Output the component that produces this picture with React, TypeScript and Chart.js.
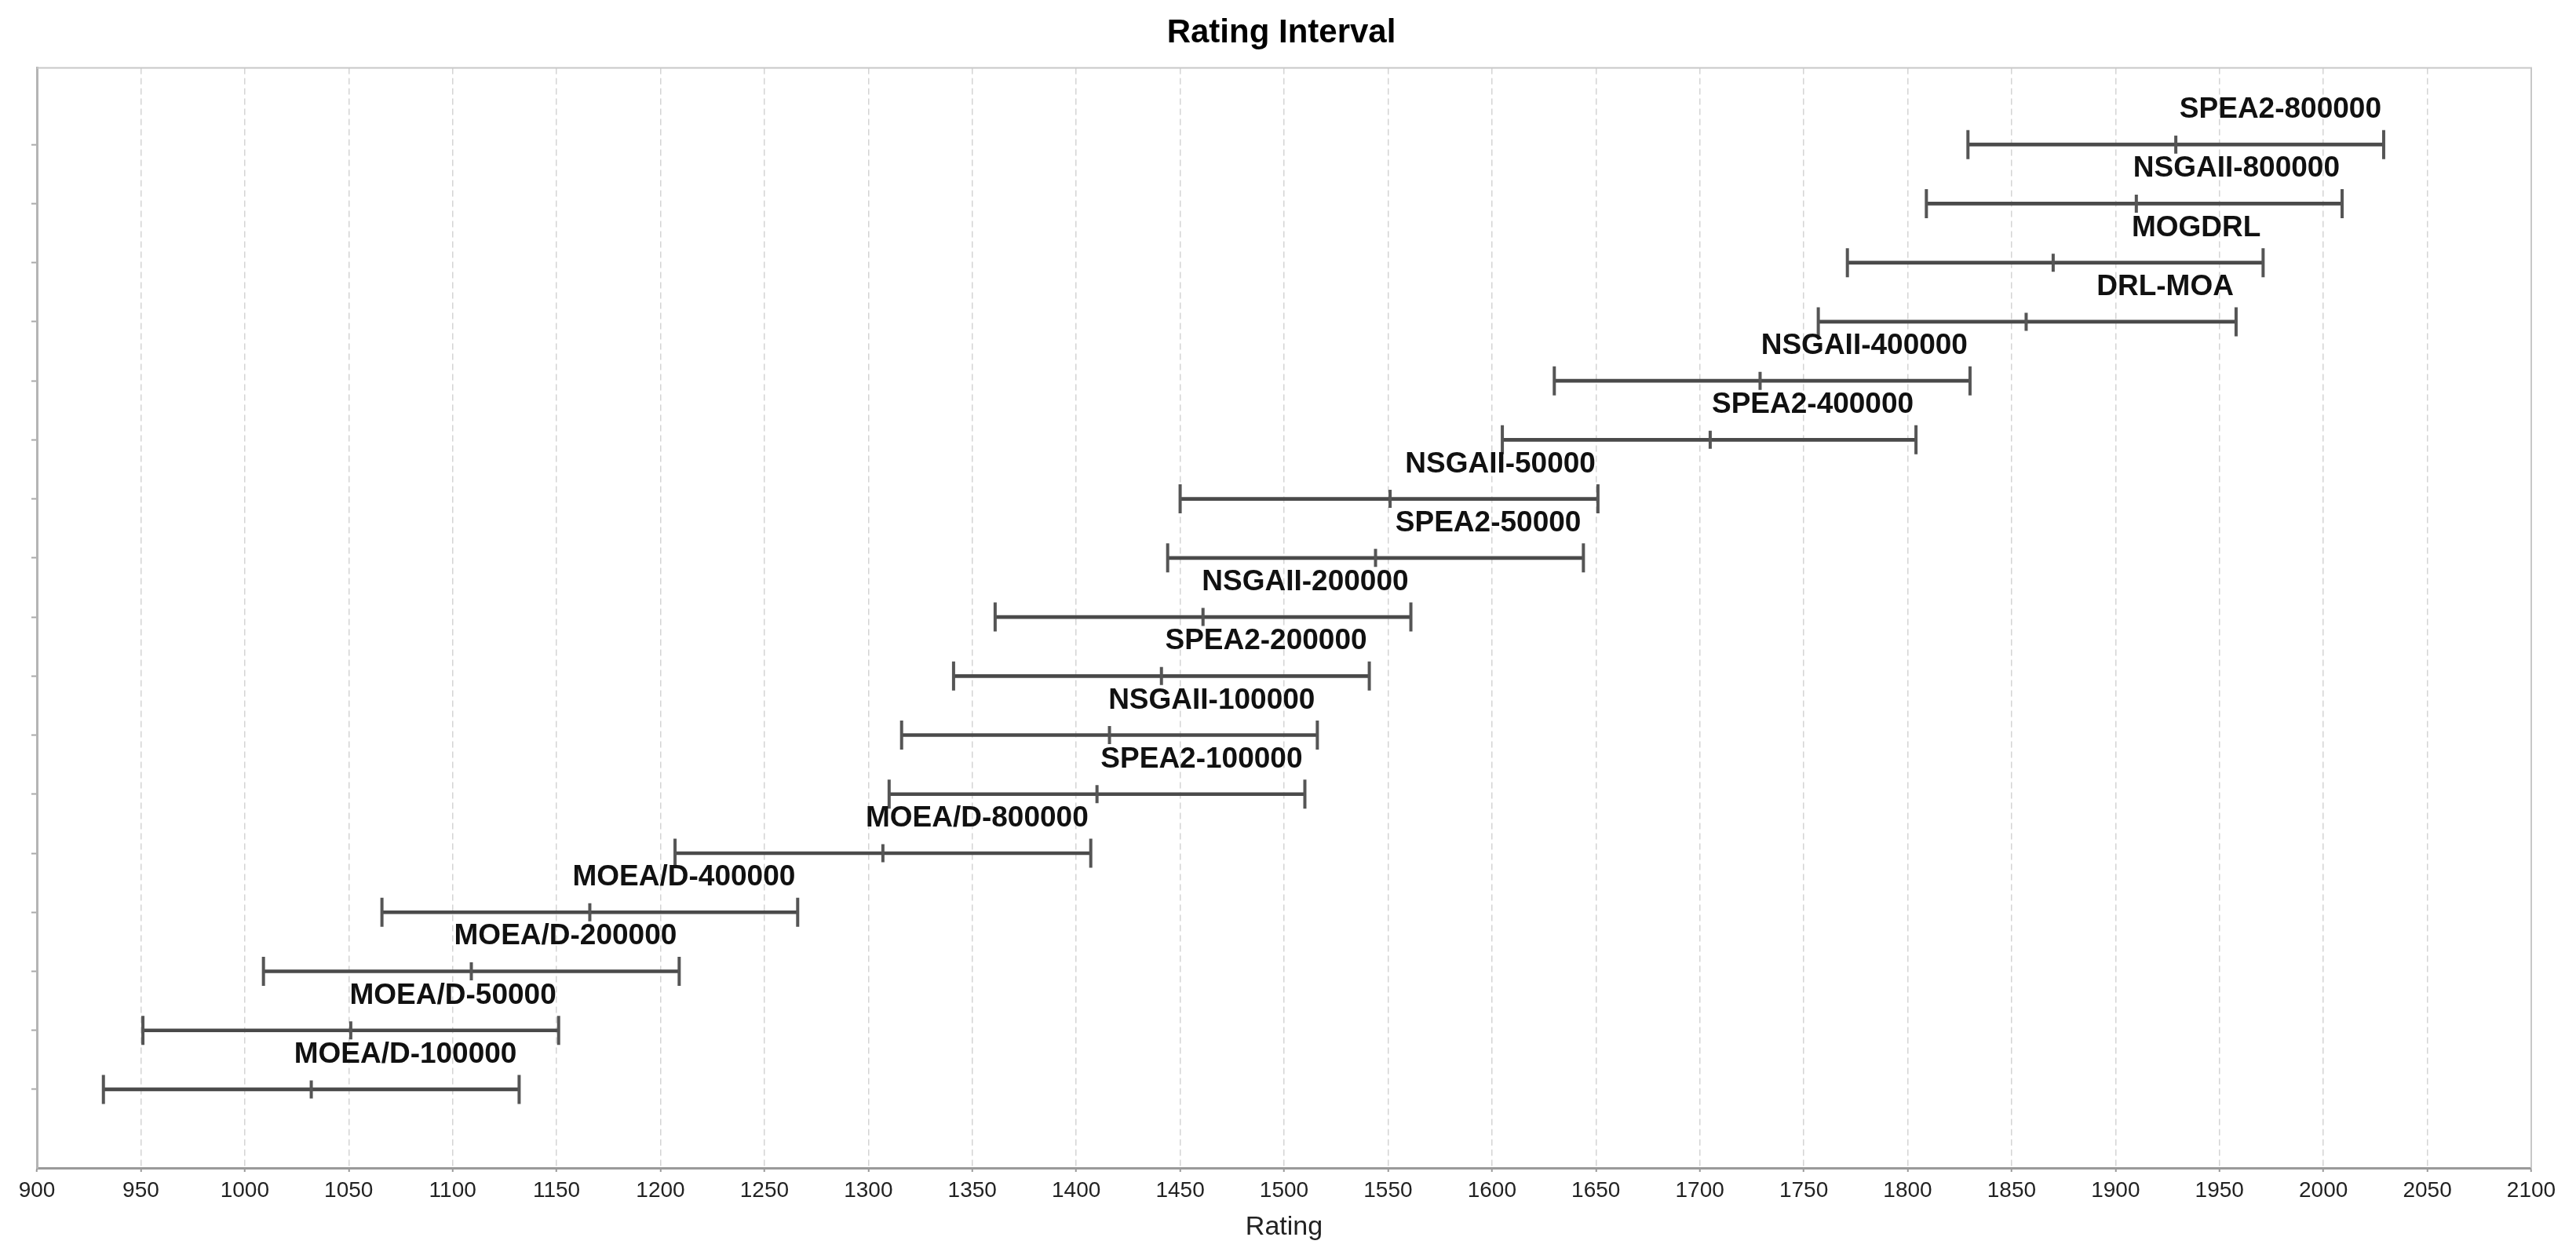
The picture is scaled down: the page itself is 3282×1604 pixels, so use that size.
import React, { useEffect, useRef } from 'react';
import { Chart, registerables } from 'chart.js';

Chart.register(...registerables);

// ---- data (bottom row first) ----
const categories = [
  'MOEA/D-100000',
  'MOEA/D-50000',
  'MOEA/D-200000',
  'MOEA/D-400000',
  'MOEA/D-800000',
  'SPEA2-100000',
  'NSGAII-100000',
  'SPEA2-200000',
  'NSGAII-200000',
  'SPEA2-50000',
  'NSGAII-50000',
  'SPEA2-400000',
  'NSGAII-400000',
  'DRL-MOA',
  'MOGDRL',
  'NSGAII-800000',
  'SPEA2-800000',
];
const lowerBounds = [932, 951, 1009, 1066, 1207, 1310, 1316, 1341, 1361, 1444, 1450, 1605, 1630, 1757, 1771, 1809, 1829];
const meanRatings = [1032, 1051, 1109, 1166, 1307, 1410, 1416, 1441, 1461, 1544, 1551, 1705, 1729, 1857, 1870, 1910, 1929];
const upperBounds = [1132, 1151, 1209, 1266, 1407, 1510, 1516, 1541, 1561, 1644, 1651, 1804, 1830, 1958, 1971, 2009, 2029];
const xTickValues = [
  900, 950, 1000, 1050, 1100, 1150, 1200, 1250, 1300, 1350, 1400, 1450,
  1500, 1550, 1600, 1650, 1700, 1750, 1800, 1850, 1900, 1950, 2000, 2050, 2100,
];

const FONT = '"Liberation Sans", Arial, Helvetica, sans-serif';

const labelPlugin = {
  id: 'intervalLabels',
  afterDatasetsDraw(chart: any) {
    const { ctx, scales } = chart;
    const xs = scales.x;
    const ys = scales.y;
    ctx.save();
    ctx.font = `bold 37px ${FONT}`;
    ctx.fillStyle = '#111111';
    ctx.textAlign = 'right';
    ctx.textBaseline = 'alphabetic';
    categories.forEach((name, i) => {
      ctx.fillText(name, xs.getPixelForValue(upperBounds[i]) - 3, ys.getPixelForValue(i) - 34);
    });
    ctx.restore();
  },
};

const framePlugin = {
  id: 'plotFrame',
  beforeDatasetsDraw(chart: any) {
    const { ctx, chartArea } = chart;
    const { left, right, top, bottom } = chartArea;
    ctx.save();
    ctx.strokeStyle = '#c8c8c8';
    ctx.lineWidth = 2;
    ctx.beginPath();
    ctx.moveTo(left, top);
    ctx.lineTo(right, top);
    ctx.lineTo(right, bottom);
    ctx.stroke();
    ctx.restore();
  },
};

export default function App() {
  const ref = useRef<HTMLCanvasElement>(null);

  useEffect(() => {
    if (!ref.current) return;
    const endPoints = categories.flatMap((_, i) => [
      { x: lowerBounds[i], y: i },
      { x: upperBounds[i], y: i },
    ]);
    const meanPoints = categories.map((_, i) => ({ x: meanRatings[i], y: i }));
    const barData = categories.map((_, i) => ({ x: [lowerBounds[i], upperBounds[i]], y: i }));

    const chart = new Chart(ref.current, {
      type: 'bar',
      data: {
        datasets: [
          {
            type: 'scatter',
            label: 'bounds',
            data: endPoints,
            pointStyle: 'line',
            pointRotation: 90,
            pointRadius: 18.5,
            pointBorderColor: '#555555',
            pointBackgroundColor: '#555555',
            pointBorderWidth: 4,
            order: 1,
          } as any,
          {
            type: 'scatter',
            label: 'mean',
            data: meanPoints,
            pointStyle: 'line',
            pointRotation: 90,
            pointRadius: 11.5,
            pointBorderColor: '#555555',
            pointBackgroundColor: '#555555',
            pointBorderWidth: 4,
            order: 1,
          } as any,
          {
            type: 'bar',
            label: 'interval',
            data: barData,
            backgroundColor: '#4a4a4a',
            borderWidth: 0,
            barThickness: 4,
            order: 2,
          } as any,
        ],
      },
      options: {
        indexAxis: 'y',
        responsive: false,
        animation: false,
        events: [],
        layout: { padding: { left: 40, right: 57, top: 0, bottom: 0 } },
        plugins: {
          legend: { display: false },
          tooltip: { enabled: false },
          title: {
            display: true,
            text: 'Rating Interval',
            color: '#000000',
            font: { family: FONT, size: 42, weight: 'bold' },
            padding: { top: 17, bottom: 19 },
          },
        },
        scales: {
          x: {
            type: 'linear',
            position: 'bottom',
            min: 900,
            max: 2100,
            offset: false,
            beginAtZero: false,
            afterBuildTicks: (s: any) => {
              s.ticks = xTickValues.map((v) => ({ value: v }));
            },
            afterFit: (s: any) => {
              s.height = 116;
              s.paddingLeft = 0;
              s.paddingRight = 0;
            },
            ticks: {
              autoSkip: false,
              maxRotation: 0,
              minRotation: 0,
              padding: 7,
              color: '#222222',
              font: { family: FONT, size: 28 },
              callback: (v: any) => String(v),
            },
            grid: {
              color: '#d4d4d4',
              lineWidth: 1.5,
              drawTicks: true,
              tickLength: 5,
              tickColor: '#999999',
              tickWidth: 2,
              tickBorderDash: [],
              offset: false,
            },
            border: { display: true, color: '#9a9a9a', width: 3, dash: [8, 5] },
            title: {
              display: true,
              text: 'Rating',
              color: '#222222',
              font: { family: FONT, size: 34 },
              padding: { top: 0, bottom: 20 },
            },
          },
          y: {
            type: 'linear',
            min: -1.33,
            max: 17.3,
            offset: false,
            beginAtZero: false,
            afterBuildTicks: (s: any) => {
              s.ticks = categories.map((_, i) => ({ value: i }));
            },
            afterFit: (s: any) => {
              s.width = 7;
              s.paddingTop = 0;
              s.paddingBottom = 0;
            },
            ticks: { display: false },
            grid: {
              drawOnChartArea: false,
              drawTicks: true,
              tickLength: 7,
              tickColor: '#aaaaaa',
              tickWidth: 2,
              offset: false,
            },
            border: { display: true, color: '#b4b4b4', width: 3 },
          },
        },
      } as any,
      plugins: [framePlugin, labelPlugin],
    });
    return () => chart.destroy();
  }, []);

  return (
    <div style={{ position: 'fixed', left: 0, top: 0, width: '3282px', height: '1604px', background: '#ffffff' }}>
      <canvas ref={ref} width={3282} height={1604} style={{ display: 'block' }} />
    </div>
  );
}
